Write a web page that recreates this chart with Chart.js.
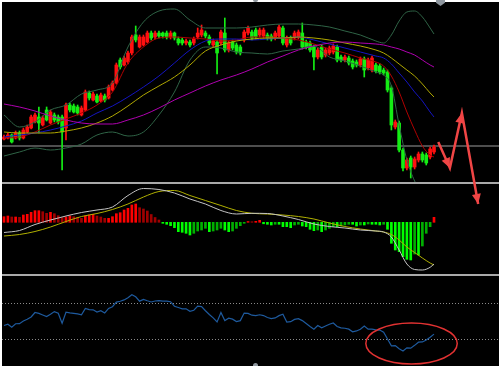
<!DOCTYPE html>
<html>
<head>
<meta charset="utf-8">
<title>price / macd / rsi</title>
<script src="https://cdn.jsdelivr.net/npm/chart.js@4.4.1/dist/chart.umd.min.js"></script>
<style>
  html, body { margin: 0; padding: 0; width: 499px; height: 366px; overflow: hidden; background: #fff; }
  #frame { position: absolute; left: 2px; top: 2px; width: 497px; height: 364px; background: #000; }
  #frame canvas { position: absolute; left: 0; }
  #price { top: 0; z-index: 3; }
  #macd { top: 182px; z-index: 2; }
  #rsi { top: 274px; z-index: 2; }
  .sep { position: absolute; left: 0; width: 497px; height: 2px; background: #a9a9a9; z-index: 1; }
  .mark { position: absolute; background: #8f979f; z-index: 5; }
</style>
</head>
<body>
<div id="frame">
  <div class="sep" style="top:180px"></div>
  <div class="sep" style="top:272px"></div>
  <canvas id="price" width="497" height="208"></canvas>
  <canvas id="macd" width="497" height="90"></canvas>
  <canvas id="rsi" width="497" height="90"></canvas>
</div>
<div class="mark" style="left:436px;top:0;width:9px;height:6px;clip-path:polygon(0 0,100% 0,100% 45%,50% 100%,0 45%)"></div>
<div class="mark" style="left:253px;top:0;width:5px;height:2px;border-radius:0 0 3px 3px"></div>
<div class="mark" style="left:253px;top:363px;width:5px;height:3px;border-radius:3px 3px 0 0"></div>

<script>
// ---- candles, oldest first (one per bar) ----
const opens = [
  51,52,55,52,57,52,58,62,68,73, 65,80,67,75,73,73,62,85,84,83,
  75,80,97,90,94,89,94,92,100,107, 130,125,128,137,155,143,145,148,157,153,
  157,157,157,153,157,151,150,147,148,147, 153,155,157,153,145,148,147,157,140,148,
  145,143,150,157,158,160,155,154,155,154, 152,154,162,145,152,152,153,157,148,147,
  143,133,143,135,137,138,143,133,130,132, 129,128,125,131,122,120,125,124,120,118,
  102,63,67,40,22,32,23,30,36,35, 33,38];
const highs = [
  55,57,56,59,59,62,65,75,77,83, 74,83,80,77,75,75,87,87,86,85,
  84,100,99,98,96,97,96,105,109,127, 132,134,139,155,164,155,155,159,159,159,
  159,158,159,159,158,153,152,151,150,153, 162,165,159,155,151,150,160,172,149,150,
  147,145,160,164,160,162,162,162,157,156, 159,165,164,154,154,159,160,167,150,149,
  145,142,145,142,144,146,145,135,135,134, 131,130,133,133,132,134,127,126,122,120,
  104,70,69,42,32,34,33,38,38,37, 43,45];
const lows = [
  50,51,47,51,50,51,57,61,67,57, 64,69,66,68,66,20,50,78,77,75,
  74,79,90,89,87,88,88,91,99,106, 121,124,126,135,148,142,144,147,150,151,
  152,152,151,151,150,145,145,145,143,145, 151,153,152,145,143,116,145,138,138,140,
  136,135,148,155,150,151,153,152,150,149, 150,152,145,143,145,150,151,141,141,138,
  120,131,131,133,135,136,128,128,128,125, 121,123,123,113,120,118,117,116,115,98,
  60,61,38,19,20,12,21,28,28,25, 31,36];
const closes = [
  53,55,48,57,52,60,63,73,75,67, 72,70,78,70,68,58,85,80,78,77,
  82,98,92,96,88,95,90,103,107,125, 123,132,137,153,150,153,153,157,152,157,
  154,154,153,157,152,147,147,149,145,151, 157,160,154,147,149,137,158,140,147,142,
  138,137,158,162,152,153,160,160,152,151, 157,163,147,152,147,157,158,143,143,140,
  133,140,133,140,142,144,130,130,133,127, 123,125,131,120,130,132,119,118,117,100,
  65,68,40,22,30,23,31,36,30,27, 41,43];

// ---- indicator lines, read at these bar numbers ----
const lineIdx = [0,4,8,12,16,20,24,28,32,36,40,44,48,52,56,60,64,68,72,76,80,84,88,92,96,98,100,102,104,106,108,110,111];
const maRed     = [52,53,58,65,71,77,85,98,127,143,152,153,152,151,149,150,153,153,152,150,146,141,137,132,128,124,114,98,78,60,44,35,33];
const maBlue    = [53,55,57,60,64,69,77,84,93,103,114,127,140,149,151,151,150,151,152,153,150,146,142,138,134,132,126,117,108,98,89,78,73];
const maYellow  = [58,57,57,57,59,62,67,74,84,95,104,113,125,139,145,149,151,152,152,153,152,150,147,144,140,137,132,126,120,114,106,97,93];
const maMagenta = [86,83,79,74,70,67,66,66,70,75,82,90,97,104,110,115,121,128,134,140,144,147,148,147,146,145,143,141,138,135,130,125,123];
const bandUpper = [75,63,68,80,85,96,100,107,143,168,179,181,170,162,162,162,163,165,166,166,165,163,159,155,149,147,155,169,178,179,173,162,156];
const bandLower = [34,38,42,40,42,46,55,58,54,58,75,98,130,143,142,138,137,136,139,141,144,133,129,124,118,115,104,65,30,9,-5,-15,-20];
const priceLevel = 44;

// ---- MACD ----
const macdMain   = [-1.02,-0.82,-0.22,0.23,0.63,0.98,1.23,1.53,2.68,3.38,3.28,2.93,2.33,1.83,1.18,0.83,0.9,0.88,0.63,0.28,-0.17,-0.42,-0.57,-0.77,-0.87,-0.97,-1.47,-2.77,-4.17,-4.72,-4.77,-4.5,-4.17];
const macdSignal = [-1.37,-1.22,-0.92,-0.47,0.08,0.58,0.88,1.28,1.83,2.53,3.08,3.18,2.68,2.18,1.68,1.18,0.9,0.83,0.73,0.58,0.33,-0.07,-0.42,-0.67,-0.87,-0.97,-1.22,-1.77,-2.47,-3.02,-3.57,-4.07,-4.27];
const macdHist = [
  0.56,0.63,0.53,0.53,0.5,0.73,0.8,1.0,1.16,1.16, 1.06,0.9,1.0,0.86,0.66,0.46,0.53,0.63,0.56,0.5,
  0.4,0.63,0.73,0.8,0.63,0.53,0.4,0.4,0.56,0.86, 0.96,1.23,1.4,1.73,1.83,1.46,1.33,1.13,0.78,0.48,
  0.23,-0.1,-0.2,-0.34,-0.54,-0.94,-1.0,-1.1,-1.27,-1.1, -0.87,-0.77,-0.6,-0.94,-0.87,-0.77,-0.6,-0.77,-0.94,-0.87,
  -0.6,-0.34,-0.1,0.08,0.06,0.1,0.2,-0.15,-0.2,-0.27, -0.2,-0.2,-0.44,-0.44,-0.54,-0.27,-0.2,-0.37,-0.44,-0.7,
  -0.84,-0.77,-0.94,-0.77,-0.6,-0.44,-0.44,-0.37,-0.27,-0.2, -0.2,-0.37,-0.27,-0.27,-0.17,-0.2,-0.2,-0.27,-0.2,-0.7,
  -2.1,-2.77,-2.94,-3.44,-3.7,-3.77,-3.17,-3.27,-2.37,-1.1, -0.44,0.5];

// ---- RSI, one per bar ----
const rsi = [
  45.6,47,43.7,47.5,47.6,50.5,52.5,55,60,59, 57.3,55.5,58,61,59.2,48,60.3,59.5,59,58.4,
  57.4,64.5,63.3,63,60.5,62,59.5,64.5,66.4,71.5, 72.5,74,76.5,79.7,77.5,72.6,74.5,73,71.7,72.8,
  73.3,72.6,72.6,72,67,65.5,64.1,64.1,61.4,62.5, 67,66.5,62,57.8,54,49.5,60,51,53.6,52.6,
  50,51,59.4,59,57,56.5,57.5,56.6,54.5,53.3, 54,56.5,58,49.3,49.8,52.3,53.2,51,47.8,44.5,
  41.5,45.5,43,45,47,48.4,44.5,43,42.5,41.5, 38.5,39.5,41.4,45,41.5,41.5,40.8,40.5,38,30.5,
  23,23.3,19.8,17.2,20.7,20.4,23.5,27,27.3,29.5, 32.5,36];
const rsiLevels = [70, 30];

// hand drawn marks on the screenshot (bar number / value units)
const arrowIdx = [112.1, 115.1, 118.2, 122.4];
const arrowVal = [48, 22, 77, -14];
const circleIdx = [105.2, 11.8];   // centre, half width
const circleVal = [25.6, 22.8];    // centre, half height

const xMin = -0.516, xMax = 127.78;
const upColor = '#ff1010', downColor = '#14ee14';

const pts = (vals) => vals.map((v, k) => ({ x: lineIdx[k], y: v }));
const flat = (v) => [{ x: xMin, y: v }, { x: xMax, y: v }];

function panelOptions(ymin, ymax, padBottom) {
  return {
    responsive: false, animation: false, devicePixelRatio: 1, events: [],
    layout: { padding: { left: 0, right: 0, top: 0, bottom: padBottom || 0 } },
    plugins: { legend: { display: false }, tooltip: { enabled: false } },
    scales: {
      x: { type: 'linear', min: xMin, max: xMax, display: false, offset: false },
      y: { min: ymin, max: ymax, display: false }
    }
  };
}

function maLine(vals, color, order) {
  return { type: 'line', data: pts(vals), borderColor: color, borderWidth: 1, pointRadius: 0,
           cubicInterpolationMode: 'monotone', order: order };
}

// ---- price panel ----
const candleCol = closes.map((c, i) => c >= opens[i] ? upColor : downColor);

const arrowHeads = {
  id: 'arrowHeads',
  afterDatasetsDraw(chart) {
    const ds = chart.data.datasets.findIndex(d => d.label === 'arrow');
    const p = chart.getDatasetMeta(ds).data;
    const ctx = chart.ctx;
    ctx.save();
    ctx.fillStyle = '#f04545';
    for (let k = 1; k < p.length; k++) {
      const a = Math.atan2(p[k].y - p[k - 1].y, p[k].x - p[k - 1].x);
      const bx = p[k].x - 10 * Math.cos(a), by = p[k].y - 10 * Math.sin(a);
      ctx.beginPath();
      ctx.moveTo(p[k].x, p[k].y);
      ctx.lineTo(bx + 4.5 * Math.sin(a), by - 4.5 * Math.cos(a));
      ctx.lineTo(bx - 4.5 * Math.sin(a), by + 4.5 * Math.cos(a));
      ctx.closePath();
      ctx.fill();
    }
    ctx.restore();
  }
};

new Chart(document.getElementById('price'), {
  type: 'bar',
  data: {
    datasets: [
      { type: 'line', data: flat(priceLevel), borderColor: '#4e4e4e', borderWidth: 2, pointRadius: 0, order: 10 },
      { label: 'wick', data: closes.map((c, i) => ({ x: i, y: [lows[i], highs[i]] })),
        backgroundColor: candleCol, barThickness: 1, grouped: false, order: 6 },
      { label: 'body', data: closes.map((c, i) => ({ x: i, y: [opens[i], c] })),
        backgroundColor: candleCol, barThickness: 3, minBarLength: 1, grouped: false, order: 5 },
      maLine(bandUpper, '#2f6446', 4),
      maLine(bandLower, '#2f6446', 4),
      maLine(maMagenta, '#b000b0', 3),
      maLine(maYellow, '#b0a800', 3),
      maLine(maBlue, '#1414c0', 3),
      maLine(maRed, '#b00000', 3),
      { label: 'arrow', type: 'line', data: arrowVal.map((v, k) => ({ x: arrowIdx[k], y: v })),
        borderColor: '#f04545', borderWidth: 2.5, pointRadius: 0, tension: 0, clip: false, order: 0 }
    ]
  },
  options: panelOptions(8, 188, 28),
  plugins: [arrowHeads]
});

// ---- MACD panel ----
const histCol = macdHist.map((h, i) => {
  const prev = i > 0 ? macdHist[i - 1] : h;
  if (h >= 0) return h >= prev ? '#ff0000' : '#a00000';
  return h <= prev ? '#00ff00' : '#00b000';
});

new Chart(document.getElementById('macd'), {
  type: 'bar',
  data: {
    datasets: [
      { data: macdHist.map((h, i) => ({ x: i, y: h })), backgroundColor: histCol,
        barThickness: 2, grouped: false, order: 3 },
      maLine(macdSignal, '#b0b000', 2),
      maLine(macdMain, '#c4c4c4', 1)
    ]
  },
  options: panelOptions(-5.17, 3.83)
});

// ---- RSI panel ----
const circle = {
  id: 'circle',
  afterDatasetsDraw(chart) {
    const x = chart.scales.x, y = chart.scales.y;
    const cx = x.getPixelForValue(circleIdx[0]), cy = y.getPixelForValue(circleVal[0]);
    const rx = x.getPixelForValue(circleIdx[0] + circleIdx[1]) - cx;
    const ry = cy - y.getPixelForValue(circleVal[0] + circleVal[1]);
    const ctx = chart.ctx;
    ctx.save();
    ctx.strokeStyle = '#e23232';
    ctx.lineWidth = 1.5;
    ctx.beginPath();
    ctx.ellipse(cx, cy, rx, ry, 0, 0, Math.PI * 2);
    ctx.stroke();
    ctx.restore();
  }
};

// range nudged by half a pixel so the dotted 70/30 lines land on whole pixels
new Chart(document.getElementById('rsi'), {
  type: 'line',
  data: {
    datasets: [
      { data: rsi.map((v, i) => ({ x: i, y: v })), borderColor: '#1e5a9e', borderWidth: 1.2,
        pointRadius: 0, tension: 0, order: 1 },
      ...rsiLevels.map(l => ({ data: flat(l), borderColor: '#8a8a8a', borderWidth: 1,
        borderDash: [1, 2], pointRadius: 0, order: 2 }))
    ]
  },
  options: panelOptions(0.56, 100.56),
  plugins: [circle]
});
</script>
</body>
</html>
